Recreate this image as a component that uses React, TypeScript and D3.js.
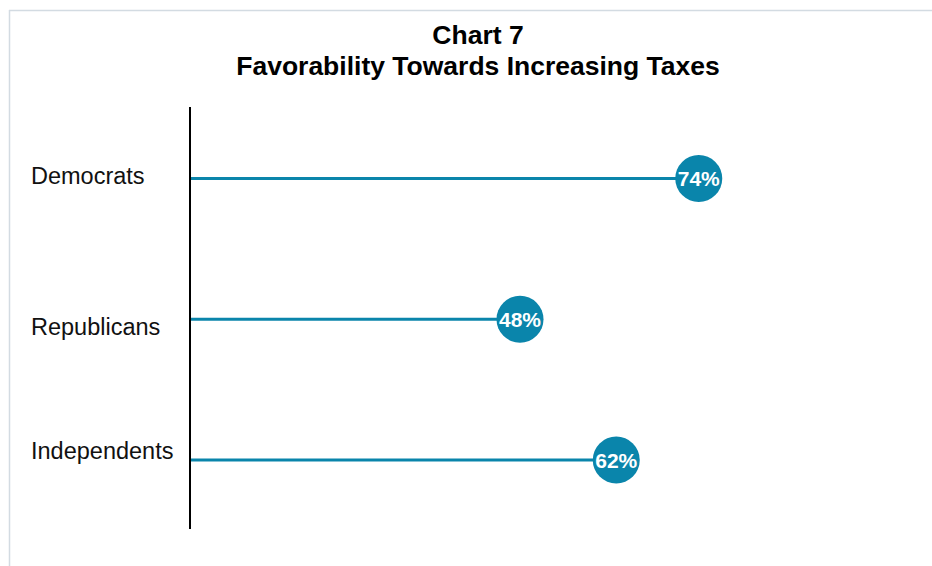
import React from "react";
import * as d3 from "d3";

const categories = ["Democrats", "Republicans", "Independents"];
const values = [74, 48, 62];
const labelBaselines = [184, 334.5, 458.5];
const titleLines = ["Chart 7", "Favorability Towards Increasing Taxes"];

export default function App() {
  const W = 932, H = 566;
  const x = d3.scaleLinear().domain([0, 100]).range([190, 877.5]);
  const y = d3.scalePoint<string>().domain(categories).range([178.5, 460]);
  const color = "#0a85ab";
  const font = "'Liberation Sans', Arial, Helvetica, sans-serif";
  return (
    <svg width={W} height={H} style={{ position: "absolute", left: 0, top: 0 }} fontFamily={font}>
      <rect x={0} y={0} width={W} height={H} fill="#fff" />
      <line x1={9} x2={W} y1={10.5} y2={10.5} stroke="#d3dbe2" strokeWidth={1.5} />
      <line x1={9.5} x2={9.5} y1={10} y2={H} stroke="#d3dbe2" strokeWidth={1.5} />
      {titleLines.map((t, i) => (
        <text key={t} x={478} y={44 + i * 31} textAnchor="middle" fontWeight="bold" fontSize={26.5} fill="#000">
          {t}
        </text>
      ))}
      {categories.map((c, i) => {
        const yy = y(c)!;
        return (
          <g key={c}>
            <text x={31} y={labelBaselines[i]} fontSize={23.5} fill="#111">{c}</text>
            <line x1={x(0)} x2={x(values[i])} y1={yy} y2={yy} stroke={color} strokeWidth={3} />
            <circle cx={x(values[i])} cy={yy} r={23.5} fill={color} />
            <text x={x(values[i])} y={yy + 7.5} textAnchor="middle" fontWeight="bold" fontSize={21} fill="#fff">
              {values[i]}%
            </text>
          </g>
        );
      })}
      <line x1={190} x2={190} y1={107} y2={529} stroke="#000" strokeWidth={2} />
    </svg>
  );
}
